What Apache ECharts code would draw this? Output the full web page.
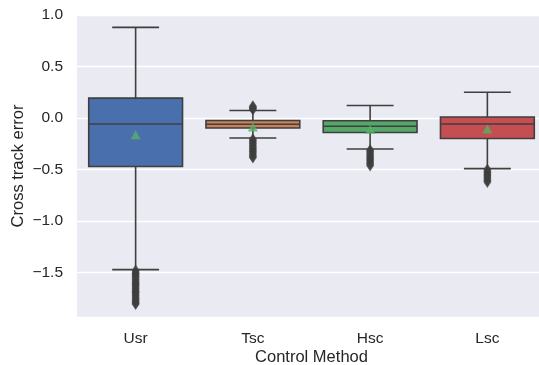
<!DOCTYPE html>
<html>
<head>
<meta charset="utf-8">
<script src="https://cdn.jsdelivr.net/npm/echarts@6/dist/echarts.min.js"></script>
<style>
  html, body { margin: 0; padding: 0; background: #ffffff; }
  #chart { width: 539px; height: 365px; }
</style>
</head>
<body>
<div id="chart"></div>
<script>
// Control methods along the x axis
const methods = ['Usr', 'Tsc', 'Hsc', 'Lsc'];

// Box statistics per method: [lower whisker, Q1, median, Q3, upper whisker]
const usrBox = [-1.47, -0.47, -0.058, 0.194, 0.88];
const tscBox = [-0.194, -0.097, -0.06, -0.023, 0.074];
const hscBox = [-0.30, -0.14, -0.08, -0.026, 0.122];
const lscBox = [-0.49, -0.198, -0.058, 0.01, 0.25];

// Mean cross track error per method
const means = [-0.162, -0.087, -0.108, -0.107];

// Outlying samples beyond the whiskers
const usrOutliers = [-1.48, -1.495, -1.51, -1.52, -1.535, -1.55, -1.565, -1.58, -1.595, -1.61, -1.62, -1.635,
  -1.65, -1.665, -1.68, -1.69, -1.705, -1.72, -1.735, -1.75, -1.765, -1.78, -1.795, -1.805];
const tscOutliers = [0.082, 0.095, 0.105, 0.115, -0.205, -0.22, -0.235, -0.25, -0.265, -0.28, -0.295,
  -0.31, -0.325, -0.34, -0.355, -0.37, -0.382];
const hscOutliers = [-0.31, -0.325, -0.34, -0.355, -0.37, -0.385, -0.40, -0.415, -0.43, -0.445, -0.46];
const lscOutliers = [-0.50, -0.515, -0.53, -0.545, -0.56, -0.575, -0.59, -0.605, -0.62];

// Y axis range and tick step
const yMin = -1.93;
const yMax = 1.0;
const yStep = 0.5;

const boxColors = ['#4A6FAD', '#C98257', '#55A868', '#C44E52'];
const edgeColor = '#3f3f3f';
const textColor = '#262626';
const fontFamily = '"Liberation Sans", Arial, sans-serif';

const boxes = [usrBox, tscBox, hscBox, lscBox];
const outliers = [usrOutliers, tscOutliers, hscOutliers, lscOutliers];

const boxData = boxes.map((b, i) => [i].concat(b));
const outlierData = [];
outliers.forEach((list, i) => list.forEach(v => outlierData.push([i, v])));
const meanData = means.map((m, i) => [i, m]);

function renderBox(params, api) {
  const i = api.value(0);
  const lo = api.coord([i, api.value(1)]);
  const q1 = api.coord([i, api.value(2)]);
  const med = api.coord([i, api.value(3)]);
  const q3 = api.coord([i, api.value(4)]);
  const hi = api.coord([i, api.value(5)]);
  const band = api.size([1, 0])[0];
  const bw = band * 0.8;
  const cw = bw * 0.5;
  const x = lo[0];
  const lineStyle = { stroke: edgeColor, lineWidth: 1.6 };
  return {
    type: 'group',
    children: [
      { type: 'line', shape: { x1: x, y1: q3[1], x2: x, y2: hi[1] }, style: lineStyle },
      { type: 'line', shape: { x1: x, y1: q1[1], x2: x, y2: lo[1] }, style: lineStyle },
      { type: 'line', shape: { x1: x - cw / 2, y1: hi[1], x2: x + cw / 2, y2: hi[1] }, style: lineStyle },
      { type: 'line', shape: { x1: x - cw / 2, y1: lo[1], x2: x + cw / 2, y2: lo[1] }, style: lineStyle },
      {
        type: 'rect',
        shape: { x: x - bw / 2, y: q3[1], width: bw, height: q1[1] - q3[1] },
        style: { fill: boxColors[params.dataIndex], stroke: edgeColor, lineWidth: 1.6 }
      },
      { type: 'line', shape: { x1: x - bw / 2, y1: med[1], x2: x + bw / 2, y2: med[1] }, style: lineStyle }
    ]
  };
}

function tickLabel(v) {
  const k = Math.round(v / yStep);
  if (Math.abs(k * yStep - v) > 1e-6) return '';
  return (k * yStep).toFixed(1).replace('-', '\u2212');
}

const chart = echarts.init(document.getElementById('chart'), null, { renderer: 'canvas' });
chart.setOption({
  animation: false,
  textStyle: { fontFamily: fontFamily },
  grid: {
    left: 77, right: -7, top: 15, bottom: 48,
    containLabel: false,
    outerBoundsMode: 'none',
    show: true, backgroundColor: '#EAEAF2', borderWidth: 0
  },
  xAxis: {
    type: 'category',
    data: methods,
    boundaryGap: true,
    name: 'Control Method',
    nameLocation: 'middle',
    nameGap: 32,
    nameMoveOverlap: false,
    nameTextStyle: { color: textColor, fontSize: 16.5, fontFamily: fontFamily },
    axisLine: { show: false },
    axisTick: { show: false },
    splitLine: { show: false },
    axisLabel: { color: textColor, fontSize: 15.5, margin: 14, fontFamily: fontFamily }
  },
  yAxis: {
    type: 'value',
    min: yMin,
    max: yMax,
    splitNumber: 6,
    name: 'Cross track error',
    nameLocation: 'middle',
    nameGap: 50,
    nameMoveOverlap: false,
    nameTextStyle: { color: textColor, fontSize: 16.5, fontFamily: fontFamily },
    axisLine: { show: false },
    axisTick: { show: false },
    splitLine: { show: true, lineStyle: { color: '#ffffff', width: 1.3 } },
    axisLabel: { color: textColor, fontSize: 15.5, margin: 14, formatter: tickLabel, fontFamily: fontFamily }
  },
  series: [
    {
      type: 'custom',
      renderItem: renderBox,
      data: boxData,
      encode: { x: 0, y: [1, 2, 3, 4, 5] },
      z: 2
    },
    {
      type: 'scatter',
      data: outlierData,
      symbol: 'diamond',
      symbolSize: [8, 12],
      itemStyle: { color: edgeColor },
      z: 3
    },
    {
      type: 'scatter',
      data: meanData,
      symbol: 'triangle',
      symbolSize: [10, 9],
      itemStyle: { color: '#55B163' },
      z: 4
    }
  ]
});
</script>
</body>
</html>
